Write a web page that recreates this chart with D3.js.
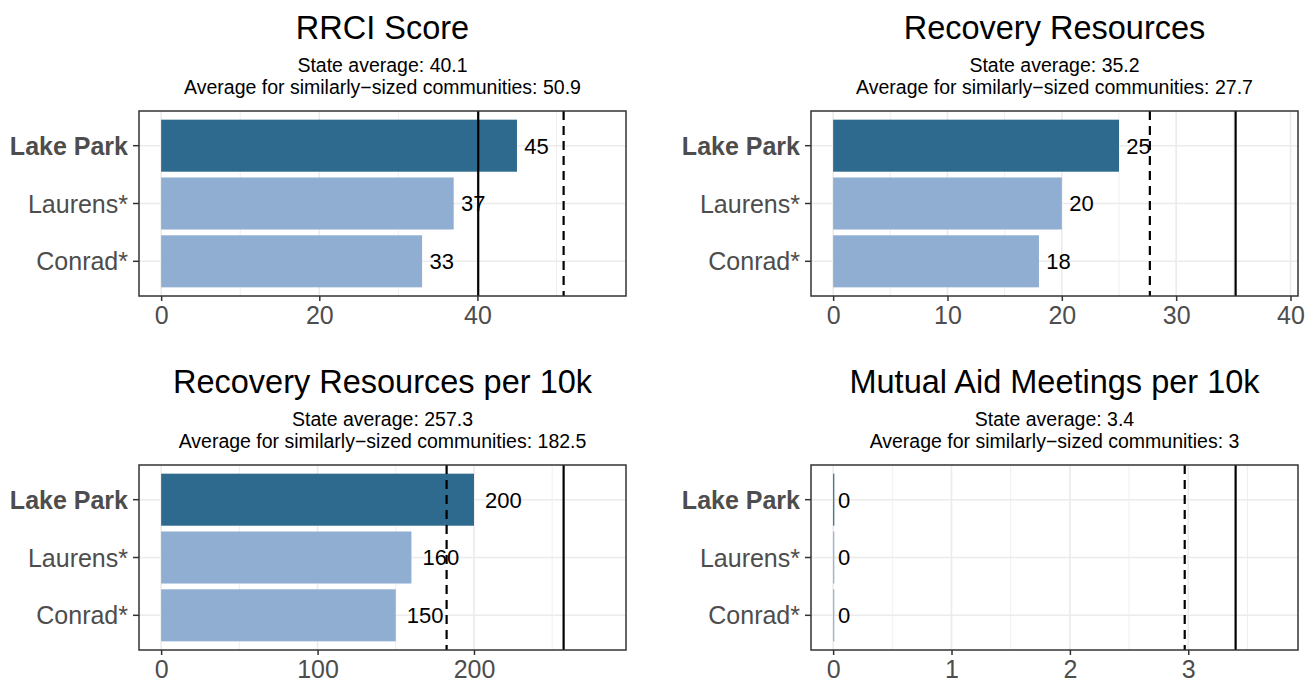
<!DOCTYPE html>
<html>
<head>
<meta charset="utf-8">
<script src="https://cdn.jsdelivr.net/npm/d3@7"></script>
<style>
  html, body { margin: 0; padding: 0; background: #fff; }
  svg { display: block; font-family: "Liberation Sans", Arial, Helvetica, sans-serif; }
</style>
</head>
<body>
<svg id="chart" width="1312" height="684"></svg>
<script>
// ---- data ----
const categories = ["Lake Park", "Laurens*", "Conrad*"];
const highlight = "Lake Park";
const panelTitles = ["RRCI Score", "Recovery Resources", "Recovery Resources per 10k", "Mutual Aid Meetings per 10k"];
const rrciScore = [45, 37, 33];
const recoveryResources = [25, 20, 18];
const resourcesPer10k = [200, 160, 150];
const meetingsPer10k = [0.01, 0.01, 0.01];
const stateAverages = [40.1, 35.2, 257.3, 3.4];
const similarAverages = [50.9, 27.7, 182.5, 2.97];
const tickValues = [[0, 20, 40], [0, 10, 20, 30, 40], [0, 100, 200], [0, 1, 2, 3]];
const minorTicks = [[10, 30, 50], [5, 15, 25, 35], [50, 150, 250], [0.5, 1.5, 2.5, 3.5]];

const seriesList = [rrciScore, recoveryResources, resourcesPer10k, meetingsPer10k];

// ---- layout ----
const panels = [
  { x0: 139, x1: 626, y0: 111, y1: 296 },
  { x0: 811, x1: 1298, y0: 111, y1: 296 },
  { x0: 139, x1: 626, y0: 465, y1: 650 },
  { x0: 811, x1: 1298, y0: 465, y1: 650 }
];
const darkColor = "#2E6A8E";
const lightColor = "#8FAED1";
const gridColor = "#EBEBEB";
const axisTextColor = "#4D4D4D";

const svg = d3.select("#chart");
const fmt1 = v => String(+v.toFixed(1));

panels.forEach((p, i) => {
  const values = seriesList[i];
  const top = Math.max(d3.max(values), stateAverages[i], similarAverages[i]) * 1.1;
  const pad = top * 0.05;
  const x = d3.scaleLinear().domain([-pad, top + pad]).range([p.x0, p.x1]);
  // discrete scale: 3 levels, expansion 0.6 each side -> 3.2 units
  const unit = (p.y1 - p.y0) / 3.2;
  const yc = c => p.y0 + unit * (0.6 + categories.indexOf(c));
  const barH = unit * 0.9;

  const g = svg.append("g");

  // titles
  const cx = (p.x0 + p.x1) / 2;
  g.append("text").attr("x", cx).attr("y", p.y0 - 72.5).attr("text-anchor", "middle")
    .attr("font-size", 32.5).attr("fill", "#000").text(panelTitles[i]);
  g.append("text").attr("x", cx).attr("y", p.y0 - 39).attr("text-anchor", "middle")
    .attr("font-size", 19.5).attr("fill", "#000").text("State average: " + fmt1(stateAverages[i]));
  g.append("text").attr("x", cx).attr("y", p.y0 - 17).attr("text-anchor", "middle")
    .attr("font-size", 19.5).attr("fill", "#000")
    .text("Average for similarly\u2212sized communities: " + fmt1(similarAverages[i]));

  // grid
  const inDomain = v => v >= x.domain()[0] && v <= x.domain()[1];
  g.selectAll(".minor").data(minorTicks[i].filter(inDomain)).enter().append("line")
    .attr("x1", d => x(d)).attr("x2", d => x(d)).attr("y1", p.y0).attr("y2", p.y1)
    .attr("stroke", gridColor).attr("stroke-width", 0.8);
  g.selectAll(".major").data(tickValues[i]).enter().append("line")
    .attr("x1", d => x(d)).attr("x2", d => x(d)).attr("y1", p.y0).attr("y2", p.y1)
    .attr("stroke", gridColor).attr("stroke-width", 1.6);
  g.selectAll(".hgrid").data(categories).enter().append("line")
    .attr("x1", p.x0).attr("x2", p.x1).attr("y1", d => yc(d)).attr("y2", d => yc(d))
    .attr("stroke", gridColor).attr("stroke-width", 1.6);

  // bars
  g.selectAll(".bar").data(categories).enter().append("rect")
    .attr("x", x(0)).attr("width", (d, j) => Math.max(0, x(values[j]) - x(0)))
    .attr("y", d => yc(d) - barH / 2).attr("height", barH)
    .attr("fill", d => d === highlight ? darkColor : lightColor);

  // reference lines
  g.append("line").attr("x1", x(stateAverages[i])).attr("x2", x(stateAverages[i]))
    .attr("y1", p.y0).attr("y2", p.y1).attr("stroke", "#000").attr("stroke-width", 2.2);
  g.append("line").attr("x1", x(similarAverages[i])).attr("x2", x(similarAverages[i]))
    .attr("y1", p.y0).attr("y2", p.y1).attr("stroke", "#000").attr("stroke-width", 2.2)
    .attr("stroke-dasharray", "9,6");

  // value labels
  g.selectAll(".lbl").data(categories).enter().append("text")
    .attr("y", d => yc(d)).attr("dy", "0.36em")
    .attr("font-size", 22).attr("fill", "#000")
    .text((d, j) => Math.round(values[j]))
    .each(function (d, j) {
      const w = this.getComputedTextLength();
      d3.select(this).attr("x", x(values[j]) + w * 0.3);
    });

  // panel border
  g.append("rect").attr("x", p.x0).attr("y", p.y0).attr("width", p.x1 - p.x0).attr("height", p.y1 - p.y0)
    .attr("fill", "none").attr("stroke", "#333333").attr("stroke-width", 1.5);

  // x axis
  const xAxis = d3.axisBottom(x).tickValues(tickValues[i]).tickSize(5).tickPadding(5).tickFormat(d3.format("d"));
  const ax = g.append("g").attr("transform", `translate(0,${p.y1})`).call(xAxis);
  ax.select(".domain").remove();
  ax.selectAll(".tick line").attr("stroke", "#333333").attr("stroke-width", 1.5);
  ax.selectAll(".tick text").attr("font-size", 25).attr("fill", axisTextColor)
    .attr("font-family", null);

  // y axis
  const ay = g.append("g");
  categories.forEach(c => {
    ay.append("line").attr("x1", p.x0 - 6).attr("x2", p.x0).attr("y1", yc(c)).attr("y2", yc(c))
      .attr("stroke", "#333333").attr("stroke-width", 1.5);
    ay.append("text").attr("x", p.x0 - 11).attr("y", yc(c)).attr("dy", "0.36em")
      .attr("text-anchor", "end").attr("font-size", 25).attr("fill", axisTextColor)
      .attr("font-weight", c === highlight ? "bold" : "normal").text(c);
  });
});
</script>
</body>
</html>
